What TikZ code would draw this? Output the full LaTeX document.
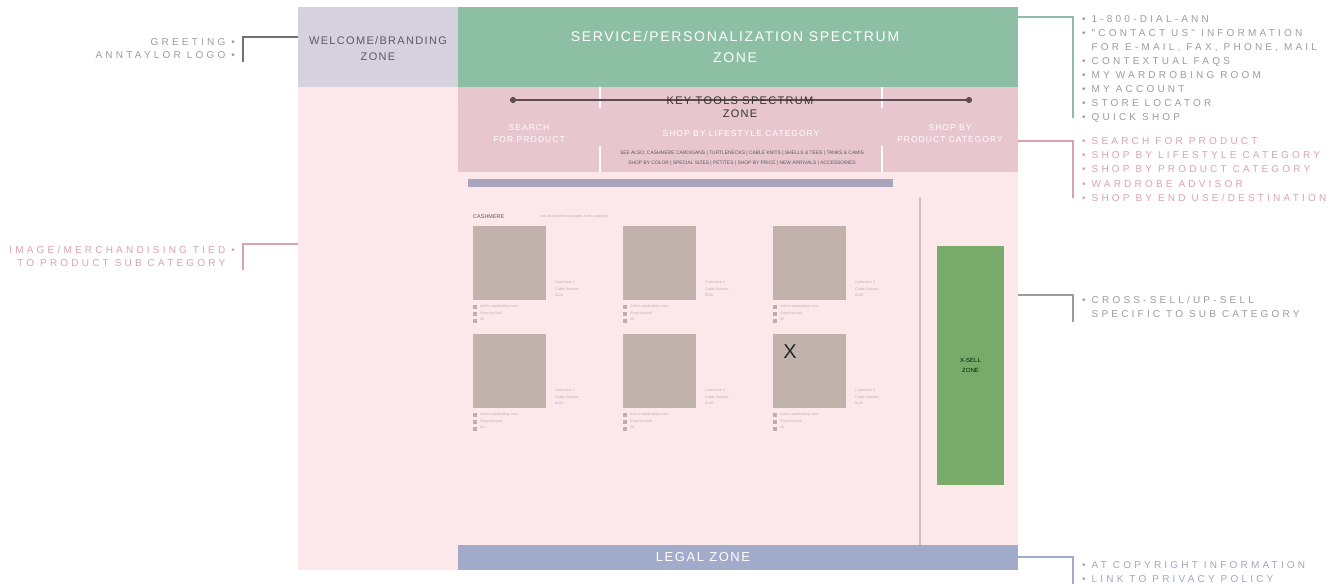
\documentclass[tikz,border=0pt]{standalone}
\usepackage{fontspec}
\setmainfont{Liberation Sans}
\newfontfamily\annfont[LetterSpace=32]{Liberation Sans}
\newfontfamily\zonefont[LetterSpace=12]{Liberation Sans}
\usetikzlibrary{arrows.meta}
\definecolor{welcomec}{HTML}{D5D1DD}
\definecolor{svcc}{HTML}{8DBFA5}
\definecolor{keyc}{HTML}{E7C6CE}
\definecolor{pagec}{HTML}{FCE8EA}
\definecolor{barc}{HTML}{AAA3BC}
\definecolor{imgc}{HTML}{C1B2AC}
\definecolor{xsellc}{HTML}{78AB69}
\definecolor{legalc}{HTML}{A3ABCA}
\definecolor{rulec}{HTML}{CDC1C4}
\definecolor{anngray}{HTML}{9C9C9C}
\definecolor{annpink}{HTML}{D9A2B0}
\definecolor{annblue}{HTML}{A0A5BC}
\definecolor{brkgray}{HTML}{707070}
\definecolor{arrowc}{HTML}{5E4C53}
\definecolor{tinyc}{HTML}{BBADB0}
\definecolor{darkt}{HTML}{5E5864}
\begin{document}
\begin{tikzpicture}[x=1pt,y=-1pt,
  box/.style={inner sep=0pt, outer sep=0pt, anchor=north west},
  zonetxt/.style={font=\zonefont\fontsize{12}{16}\selectfont, text=white, align=center, inner sep=0pt},
  subtxt/.style={font=\zonefont\fontsize{8.5}{12}\selectfont, text=white, align=center, inner sep=0pt},
  annl/.style={font=\annfont\fontsize{10}{13}\selectfont, align=right, anchor=north east, inner sep=0pt},
  annr/.style={font=\annfont\fontsize{10}{14}\selectfont, align=left, anchor=north west, inner sep=0pt},
  brk/.style={line width=1.6pt},
  tiny/.style={font=\fontsize{3.6}{6.5}\selectfont, text=tinyc, align=left, inner sep=0pt, anchor=north west},
  imgbox/.style={box, fill=imgc, minimum width=73pt, minimum height=74pt},
  swatch/.style={box, fill=tinyc, minimum width=4pt, minimum height=4pt},
]
\useasboundingbox (0,0) rectangle (1344,588);
% page background
\node[box, fill=pagec, minimum width=720pt, minimum height=483pt] (page) at (298,87) {};
% welcome zone
\node[box, fill=welcomec, minimum width=160pt, minimum height=80pt] (welcome) at (298,7) {};
\node[zonetxt, text=darkt, font=\zonefont\fontsize{11}{16}\selectfont] (welcometxt) at (378,49) {WELCOME/BRANDING\\ZONE};
% service zone
\node[box, fill=svcc, minimum width=560pt, minimum height=80pt] (svc) at (458,7) {};
\node[zonetxt, font=\zonefont\fontsize{14}{21}\selectfont] (svctxt) at (735,47) {SERVICE/PERSONALIZATION SPECTRUM\\ZONE};
% key tools zone
\node[box, fill=keyc, minimum width=560pt, minimum height=85pt] (key) at (458,87) {};
\draw[white, line width=2.5pt] (600,87) -- (600,108) (600,146) -- (600,172);
\draw[white, line width=2.5pt] (882,87) -- (882,108) (882,146) -- (882,172);
\coordinate (kl) at (510,100);
\coordinate (kr) at (972,100);
\draw[arrowc, line width=2pt, {Circle[length=6pt]}-{Circle[length=6pt]}] (kl) -- (kr);
\node[font=\zonefont\fontsize{11}{13}\selectfont, text=black!80, align=center, inner sep=0pt] (keytxt) at (740,107) {KEY TOOLS SPECTRUM\\ZONE};
\node[subtxt] (search) at (529,134) {SEARCH\\FOR PRODUCT};
\node[subtxt] (life) at (741,134) {SHOP BY LIFESTYLE CATEGORY};
\node[subtxt] (prod) at (950,134) {SHOP BY\\PRODUCT CATEGORY};
\node[font=\fontsize{4.9}{9.5}\selectfont, text=darkt, align=center, inner sep=0pt] (seealso) at (742,158) {SEE ALSO: CASHMERE CARDIGANS \textbar{} TURTLENECKS \textbar{} CABLE KNITS \textbar{} SHELLS \& TEES \textbar{} TANKS \& CAMIS\\SHOP BY COLOR \textbar{} SPECIAL SIZES \textbar{} PETITES \textbar{} SHOP BY PRICE \textbar{} NEW ARRIVALS \textbar{} ACCESSORIES};
% lavender bar
\node[box, fill=barc, minimum width=425pt, minimum height=8pt] (bar) at (468,179) {};
% category heading
\node[font=\fontsize{5.5}{7}\selectfont, text=darkt, inner sep=0pt, anchor=west] (cat) at (473,217) {CASHMERE};
\node[tiny, anchor=west] (catnote) at (540,217) {see all cashmere sweaters in this category};
% product grid
\foreach \c/\x in {0/473,1/623,2/773} {
  \foreach \r/\y in {0/226,1/334} {
    \node[imgbox] (p\c\r) at (\x,\y) {};
    \node[tiny] (cap\c\r) at (\x+82,\y+55) {Cashmere V\\Cable Sweater\\\$128};
    \node[swatch] (s\c\r a) at (\x,\y+79) {};
    \node[swatch] (s\c\r b) at (\x,\y+86) {};
    \node[swatch] (s\c\r c) at (\x,\y+93) {};
    \node[tiny] (t\c\r) at (\x+7,\y+79) {Add to wardrobing room\\Shop the look\\Alt};
  }
}
\node[font=\fontsize{20}{20}\selectfont, inner sep=0pt, text=black!85] (xmark) at (790,352) {X};
% vertical rule
\draw[rulec, line width=2pt] (920,197) -- (920,565);
% x-sell zone
\node[box, fill=xsellc, minimum width=67pt, minimum height=239pt] (xsell) at (937,246) {};
\node[font=\fontsize{6}{10}\selectfont, text=black!70!green!40!black, align=center, inner sep=0pt] (xselltxt) at (xsell.center) {X-SELL\\ZONE};
% legal zone
\node[box, fill=legalc, minimum width=560pt, minimum height=25pt] (legal) at (458,545) {};
\node[zonetxt, font=\zonefont\fontsize{13}{14}\selectfont] (legaltxt) at (703,557.5) {LEGAL ZONE};
% left annotations
\coordinate (bg) at (243,37);
\draw[brk, brkgray] (bg -| welcome.west) -- (bg) -- ++(0,25);
\node[annl, text=anngray] (greet) at (235,38.5) {GREETING •\\ANNTAYLOR LOGO •};
\coordinate (bi) at (243,244);
\draw[brk, annpink] (bi -| page.west) -- (bi) -- ++(0,26);
\node[annl, text=annpink] (imgann) at (235,246) {IMAGE/MERCHANDISING TIED •\\TO PRODUCT SUB CATEGORY\phantom{ •}};
% right annotations
\coordinate (bs) at (1073,17);
\draw[brk, svcc] (bs -| svc.east) -- (bs) -- ++(0,101);
\node[annr, text=anngray] (svcann) at (1082,15) {• 1-800-DIAL-ANN\\• "CONTACT US" INFORMATION\\\phantom{• }FOR E-MAIL, FAX, PHONE, MAIL\\• CONTEXTUAL FAQS\\• MY WARDROBING ROOM\\• MY ACCOUNT\\• STORE LOCATOR\\• QUICK SHOP};
\coordinate (bk) at (1073,141);
\draw[brk, annpink] (bk -| key.east) -- (bk) -- ++(0,57);
\node[annr, text=annpink, font=\annfont\fontsize{10}{14.3}\selectfont] (keyann) at (1082,137) {• SEARCH FOR PRODUCT\\• SHOP BY LIFESTYLE CATEGORY\\• SHOP BY PRODUCT CATEGORY\\• WARDROBE ADVISOR\\• SHOP BY END USE/DESTINATION};
\coordinate (bx) at (1073,295);
\draw[brk, brkgray!70] (bx -| page.east) -- (bx) -- ++(0,27);
\node[annr, text=anngray] (xann) at (1082,296) {• CROSS-SELL/UP-SELL\\\phantom{• }SPECIFIC TO SUB CATEGORY};
\coordinate (bl) at (1073,557);
\draw[brk, legalc] (bl -| legal.east) -- (bl) -- ++(0,27);
\node[annr, text=annblue] (legalann) at (1082,561) {• AT COPYRIGHT INFORMATION\\• LINK TO PRIVACY POLICY};
\end{tikzpicture}
\end{document}
